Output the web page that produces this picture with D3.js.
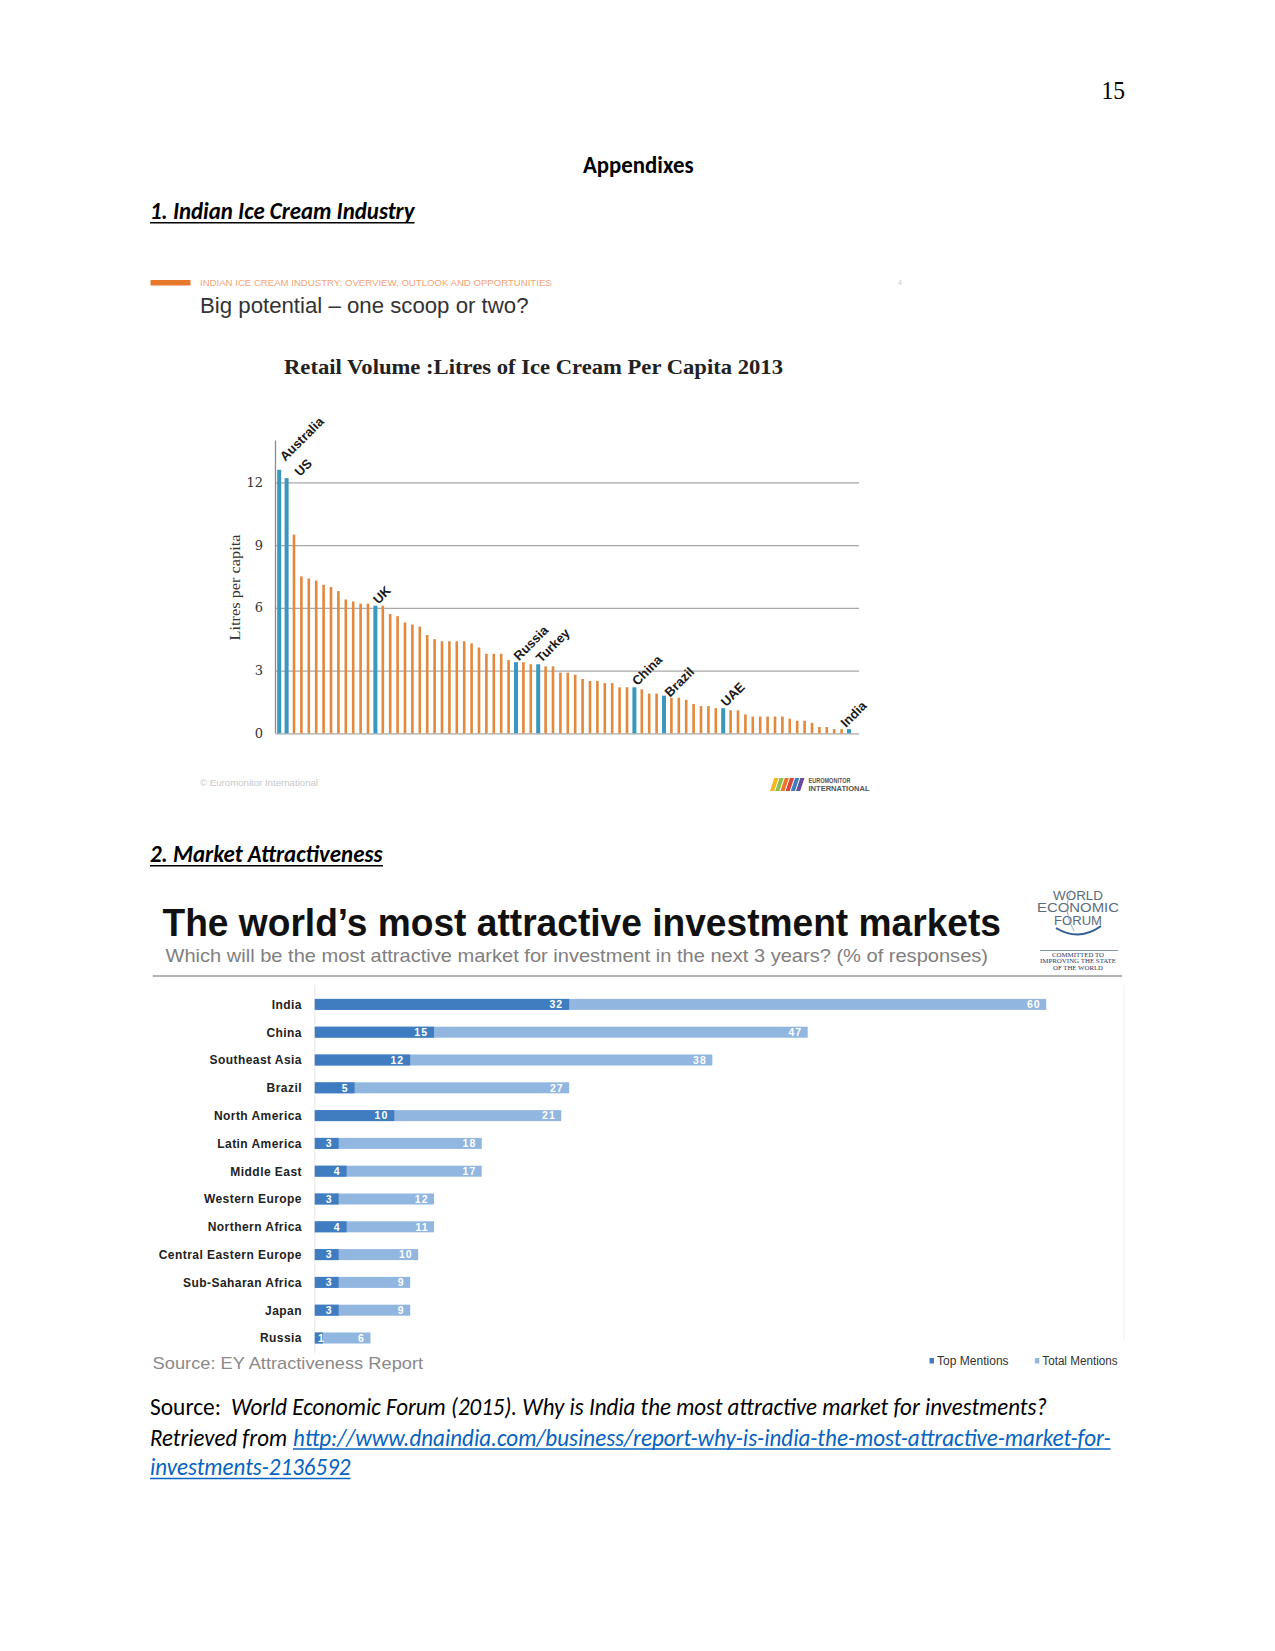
<!DOCTYPE html>
<html><head><meta charset="utf-8">
<script src="https://cdn.jsdelivr.net/npm/d3@7"></script>
<style>
html,body{margin:0;padding:0;background:#fff;}
svg{display:block;}
</style></head><body>
<svg id="page" width="1275" height="1651"></svg>
<script>
// ---------- Chart 1: Retail volume, litres of ice cream per capita 2013 ----------
const iceValues = [12.6,12.2,9.5,7.5,7.4,7.3,7.1,7.0,6.8,6.4,6.3,6.2,6.2,6.1,6.1,5.7,5.6,5.3,5.2,5.1,
  4.7,4.5,4.4,4.4,4.4,4.4,4.3,4.1,3.8,3.8,3.8,3.5,3.4,3.4,3.3,3.3,3.2,3.2,2.9,2.9,
  2.8,2.6,2.5,2.5,2.4,2.4,2.2,2.2,2.2,2.1,1.9,1.9,1.8,1.7,1.7,1.6,1.4,1.3,1.3,1.2,
  1.2,1.1,1.1,0.9,0.8,0.8,0.8,0.8,0.8,0.7,0.6,0.6,0.5,0.3,0.3,0.2,0.2,0.2];
const iceLabelIndex = [0,1,13,32,35,48,52,60,77];
const iceLabelNames = ['Australia','US','UK','Russia','Turkey','China','Brazil','UAE','India'];
const iceTicks = [0,3,6,9,12];

// ---------- Chart 2: most attractive investment markets ----------
const regions = ['India','China','Southeast Asia','Brazil','North America','Latin America','Middle East',
  'Western Europe','Northern Africa','Central Eastern Europe','Sub-Saharan Africa','Japan','Russia'];
const topMentions   = [32,15,12,5,10,3,4,3,4,3,3,3,1];
const totalMentions = [60,47,38,27,21,18,17,12,11,10,9,9,6];
const legendLabels = ['Top Mentions','Total Mentions'];

const svg = d3.select('#page');
svg.append('rect').attr('width',1275).attr('height',1651).attr('fill','#fff');

function T(parent, x, y, text, o={}) {
  const t = parent.append('text').attr('x',x).attr('y',y).text(text)
    .attr('font-family', o.f||'Liberation Sans')
    .attr('font-size', o.s||12)
    .attr('fill', o.c||'#000');
  if(o.w) t.attr('font-weight',o.w);
  if(o.i) t.attr('font-style','italic');
  if(o.a) t.attr('text-anchor',o.a);
  if(o.len) t.attr('textLength',o.len).attr('lengthAdjust','spacingAndGlyphs');
  if(o.ls) t.attr('letter-spacing',o.ls);
  return t;
}
function L(parent,x1,y1,x2,y2,c,w){
  return parent.append('line').attr('x1',x1).attr('y1',y1).attr('x2',x2).attr('y2',y2)
    .attr('stroke',c).attr('stroke-width',w||1);
}

// ---------- document text ----------
const DOC = 'Carlito, Lato, sans-serif';
T(svg,1125,99,'15',{f:'Liberation Serif',s:25,a:'end',len:23.5});
T(svg,583,172.5,'Appendixes',{f:DOC,s:25,w:'bold',len:110.5});
T(svg,150,219,'1. Indian Ice Cream Industry',{f:DOC,s:25,w:'bold',i:true,len:264.5});
L(svg,150,222.8,414.5,222.8,'#000',1.5);
T(svg,150,862,'2. Market Attractiveness',{f:DOC,s:25,w:'bold',i:true,len:232.5});
L(svg,150,865.8,383,865.8,'#000',1.5);

T(svg,150,1415,'Source:',{f:DOC,s:25,len:71});
T(svg,231,1415,'World Economic Forum (2015). Why is India the most attractive market for investments?',{f:DOC,s:25,i:true,len:816});
T(svg,150,1445.5,'Retrieved from',{f:DOC,s:25,i:true,len:137});
T(svg,293,1445.5,'http://www.dnaindia.com/business/report-why-is-india-the-most-attractive-market-for-',{f:DOC,s:25,i:true,c:'#0563C1',len:817.6});
L(svg,293,1449,1110.6,1449,'#0563C1',1.3);
T(svg,150,1475,'investments-2136592',{f:DOC,s:25,i:true,c:'#0563C1',len:200.5});
L(svg,150,1478.5,350.5,1478.5,'#0563C1',1.3);

// ---------- Chart 1 header ----------
const g1 = svg.append('g');
g1.append('rect').attr('x',150.5).attr('y',280).attr('width',40).attr('height',5.5).attr('fill','#e8782c');
T(g1,200,285.5,'INDIAN ICE CREAM INDUSTRY: OVERVIEW, OUTLOOK AND OPPORTUNITIES',{s:9,c:'#f2a478',len:351.7});
T(g1,898,285,'4',{s:7,c:'#cccccc'});
T(g1,200,312.5,'Big potential – one scoop or two?',{s:22,c:'#333',len:328.5});
T(g1,284,373.5,'Retail Volume :Litres of Ice Cream Per Capita 2013',{f:'Liberation Serif',s:22,w:'bold',c:'#222',len:499});

const ix = d3.scaleBand().domain(d3.range(iceValues.length)).range([275.5, 852.7]);
const iy = d3.scaleLinear().domain([0,12]).range([733.3, 482.3]);
const yAxis = d3.axisLeft(iy).tickValues(iceTicks).tickSize(-(859-275.5)).tickPadding(12.5).tickFormat(d3.format('d'));
const ga = g1.append('g').attr('transform','translate(275.5,0)').call(yAxis);
ga.select('.domain').remove();
ga.selectAll('.tick line').attr('stroke','#a8a8a8').attr('stroke-width',1.3);
ga.selectAll('.tick text').attr('font-family','DejaVu Serif').attr('font-size',13).attr('fill','#333');
L(g1,275.5,iy(0),275.5,iy(14),'#8c8c8c',1.3);

const hi = new Set(iceLabelIndex);
g1.selectAll('rect.icebar').data(iceValues).join('rect').attr('class','icebar')
  .attr('x',(d,i)=> ix(i)+ix.bandwidth()/2 - (hi.has(i)?2:1.3))
  .attr('width',(d,i)=> hi.has(i)?4:2.6)
  .attr('y',d=>iy(d)).attr('height',d=>iy(0)-iy(d))
  .attr('fill',(d,i)=> hi.has(i)?'#3a97be':'#e2893e');

// label placement nudges (layout only)
const nudge = {Australia:[3,-7], US:[10.5,0], Brazil:[3,3], India:[-6,0]};
iceLabelIndex.forEach((idx,k)=>{
  const name = iceLabelNames[k];
  const cx = ix(idx)+ix.bandwidth()/2, top = iy(iceValues[idx]);
  const n = nudge[name] || [0,0];
  g1.append('text').attr('transform',`translate(${cx+3+n[0]},${top-1+n[1]}) rotate(-45)`)
    .text(name).attr('font-family','Liberation Sans').attr('font-weight','bold')
    .attr('font-size',13).attr('fill','#1a1a1a');
});

g1.append('text').attr('transform','translate(240,587.5) rotate(-90)').attr('text-anchor','middle')
  .text('Litres per capita').attr('font-family','Liberation Serif').attr('font-size',15).attr('fill','#333')
  .attr('textLength',106).attr('lengthAdjust','spacingAndGlyphs');

T(g1,200,786,'© Euromonitor International',{s:8.5,c:'#c8c8c8',len:118});
// Euromonitor logo
const stripeCols = ['#f2b61e','#8cc04b','#e8782c','#d9453a','#3a7fc1','#6a4a9a'];
stripeCols.forEach((c,i)=>{
  const x0 = 770 + i*5.2;
  g1.append('path').attr('d',`M${x0},791 L${x0+4.2},791 L${x0+8.5},778 L${x0+4.3},778 Z`).attr('fill',c);
});
T(g1,808.5,783,'EUROMONITOR',{s:7,w:'bold',c:'#555',len:42});
T(g1,808.5,790.5,'INTERNATIONAL',{s:7,w:'bold',c:'#555',len:61});

// ---------- Chart 2 ----------
const g2 = svg.append('g');
T(g2,162.5,936,'The world’s most attractive investment markets',{s:38,w:'bold',c:'#111',len:838.5});
T(g2,165.5,962,'Which will be the most attractive market for investment in the next 3 years? (% of responses)',{s:19,c:'#808080',len:822.5});
L(g2,152.8,976,1122,976,'#9a9a9a',1.5);

// WEF logo
const wefC = '#5b6b7c';
T(g2,1078,899.5,'WORLD',{s:12.5,c:wefC,a:'middle',len:50});
T(g2,1078,912,'ECONOMIC',{s:12.5,c:wefC,a:'middle',len:82});
T(g2,1078,924.5,'FORUM',{s:12.5,c:wefC,a:'middle',len:48});
g2.append('path').attr('d','M1056,928 Q1079,942 1101,926').attr('fill','none').attr('stroke','#2f5f95').attr('stroke-width',2);
g2.append('path').attr('d','M1071,890 Q1062,912 1074,931').attr('fill','none').attr('stroke','#7f9bb8').attr('stroke-width',0.8);
L(g2,1040,950.5,1118,950.5,'#7f95ad',1);
T(g2,1078,957,'COMMITTED TO',{f:'Liberation Serif',s:6.5,c:'#1f3b6a',a:'middle',len:52});
T(g2,1078,963.2,'IMPROVING THE STATE',{f:'Liberation Serif',s:6.5,c:'#1f3b6a',a:'middle',len:76});
const clip = g2.append('clipPath').attr('id','wefclip');
clip.append('rect').attr('x',1030).attr('y',880).attr('width',100).attr('height',90.5);
T(g2,1078,969.5,'OF THE WORLD',{f:'Liberation Serif',s:6.5,c:'#1f3b6a',a:'middle',len:50}).attr('clip-path','url(#wefclip)');

const wx = d3.scaleLinear().domain([0,100]).range([314.8, 1109.8]);
const wy = d3.scaleBand().domain(regions).range([990.5, 1351.9]);
const barH = 11;
const darkC = '#3f7dc0', lightC = '#91b6e0';

L(g2,wx(0),985,wx(0),1353,'#e6e6e6',1);
L(g2,1124,985,1124,1340,'#f0f0f0',1);

const rows = g2.selectAll('g.row').data(regions).join('g').attr('class','row')
  .attr('transform',d=>`translate(0,${wy(d)+wy.bandwidth()/2})`);
rows.append('rect').attr('x',wx(0)).attr('y',-barH/2)
  .attr('width',(d,i)=> wx(topMentions[i]+totalMentions[i])-wx(0)).attr('height',barH).attr('fill',lightC);
rows.append('rect').attr('x',wx(0)).attr('y',-barH/2)
  .attr('width',(d,i)=> wx(topMentions[i])-wx(0)).attr('height',barH).attr('fill',darkC);
rows.append('text').attr('x',302).attr('y',4.3).attr('text-anchor','end').text(d=>d)
  .attr('font-family','Liberation Sans').attr('font-weight','bold').attr('font-size',12)
  .attr('letter-spacing',0.45).attr('fill','#222');
rows.append('text').attr('x',(d,i)=> Math.max(wx(topMentions[i])-6, wx(0)+10)).attr('y',3.8)
  .attr('text-anchor','end').text((d,i)=>topMentions[i])
  .attr('font-family','Liberation Sans').attr('font-weight','bold').attr('font-size',10.5)
  .attr('letter-spacing',1).attr('fill','#fff');
rows.append('text').attr('x',(d,i)=> wx(topMentions[i]+totalMentions[i])-5.5).attr('y',3.8)
  .attr('text-anchor','end').text((d,i)=>totalMentions[i])
  .attr('font-family','Liberation Sans').attr('font-weight','bold').attr('font-size',10.5)
  .attr('letter-spacing',1).attr('fill','#fff');

T(g2,152.6,1369,'Source: EY Attractiveness Report',{s:17,c:'#8a8a8a',len:270.5});
// legend
const legX = [929.5, 1034.8], legLen = [71.6, 75.3], legCols = [darkC, lightC];
legendLabels.forEach((lab,i)=>{
  g2.append('rect').attr('x',legX[i]).attr('y',1358).attr('width',4.5).attr('height',5.5).attr('fill',legCols[i]);
  T(g2,legX[i]+7.5,1365,lab,{s:12,c:'#333',len:legLen[i]});
});
</script>
</body></html>
